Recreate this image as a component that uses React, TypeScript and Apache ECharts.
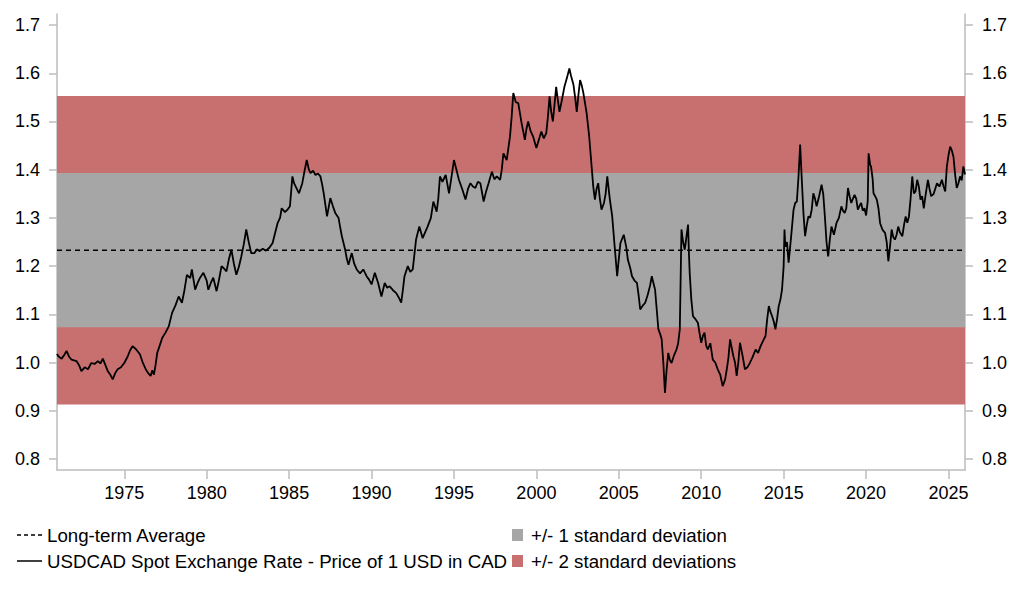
import React, { useEffect, useRef } from "react";
import * as echarts from "echarts";

// Decimal-year dates and USDCAD spot rates
const years = [
  1970.92, 1971.0, 1971.2, 1971.35, 1971.5, 1971.65, 1971.8, 1972.1, 1972.25, 1972.4, 1972.6, 1972.8,
  1973.0, 1973.2, 1973.4, 1973.55, 1973.7, 1973.85, 1974.0, 1974.15, 1974.3, 1974.45, 1974.6, 1974.8,
  1975.0, 1975.2, 1975.35, 1975.5, 1975.7, 1975.95, 1976.1, 1976.3, 1976.45, 1976.6, 1976.7, 1976.8,
  1976.9, 1977.0, 1977.15, 1977.3, 1977.5, 1977.7, 1977.9, 1978.1, 1978.3, 1978.5, 1978.65, 1978.8,
  1979.0, 1979.1, 1979.3, 1979.45, 1979.6, 1979.8, 1980.0, 1980.1, 1980.25, 1980.4, 1980.6, 1980.75,
  1980.9, 1981.05, 1981.2, 1981.35, 1981.5, 1981.65, 1981.8, 1981.95, 1982.1, 1982.25, 1982.4, 1982.55,
  1982.7, 1982.9, 1983.05, 1983.2, 1983.4, 1983.6, 1983.8, 1984.0, 1984.1, 1984.3, 1984.45, 1984.55,
  1984.75, 1984.9, 1985.05, 1985.2, 1985.3, 1985.4, 1985.6, 1985.8, 1985.95, 1986.07, 1986.2, 1986.3,
  1986.45, 1986.6, 1986.75, 1986.9, 1987.0, 1987.1, 1987.3, 1987.4, 1987.5, 1987.65, 1987.8, 1988.0,
  1988.1, 1988.2, 1988.4, 1988.5, 1988.6, 1988.8, 1988.95, 1989.1, 1989.3, 1989.5, 1989.7, 1989.85,
  1990.0, 1990.2, 1990.4, 1990.6, 1990.8, 1990.95, 1991.1, 1991.3, 1991.5, 1991.65, 1991.8, 1991.9,
  1992.0, 1992.2, 1992.35, 1992.5, 1992.7, 1992.9, 1993.1, 1993.25, 1993.4, 1993.6, 1993.75, 1993.95,
  1994.05, 1994.15, 1994.3, 1994.5, 1994.7, 1994.85, 1995.0, 1995.15, 1995.3, 1995.5, 1995.7, 1995.85,
  1996.0, 1996.15, 1996.3, 1996.45, 1996.6, 1996.8, 1996.95, 1997.1, 1997.3, 1997.45, 1997.6, 1997.8,
  1997.9, 1998.0, 1998.2, 1998.4, 1998.5, 1998.6, 1998.75, 1998.9, 1999.1, 1999.3, 1999.4, 1999.5,
  1999.65, 1999.8, 2000.0, 2000.15, 2000.3, 2000.45, 2000.6, 2000.7, 2000.8, 2000.9, 2001.0, 2001.1,
  2001.2, 2001.3, 2001.4, 2001.55, 2001.7, 2001.85, 2002.0, 2002.1, 2002.25, 2002.35, 2002.45, 2002.55,
  2002.65, 2002.75, 2002.85, 2003.05, 2003.2, 2003.35, 2003.45, 2003.55, 2003.65, 2003.75, 2003.85, 2003.95,
  2004.1, 2004.2, 2004.3, 2004.45, 2004.6, 2004.75, 2004.9, 2005.0, 2005.1, 2005.3, 2005.45, 2005.55,
  2005.7, 2005.8, 2005.95, 2006.1, 2006.2, 2006.3, 2006.45, 2006.6, 2006.75, 2006.9, 2007.0, 2007.1,
  2007.2, 2007.3, 2007.4, 2007.5, 2007.6, 2007.7, 2007.8, 2007.9, 2008.0, 2008.1, 2008.2, 2008.35,
  2008.5, 2008.6, 2008.7, 2008.8, 2008.9, 2009.0, 2009.1, 2009.2, 2009.25, 2009.3, 2009.4, 2009.5,
  2009.65, 2009.8, 2009.9, 2010.0, 2010.1, 2010.2, 2010.3, 2010.4, 2010.55, 2010.7, 2010.85, 2011.0,
  2011.15, 2011.3, 2011.45, 2011.55, 2011.65, 2011.75, 2011.85, 2011.95, 2012.05, 2012.15, 2012.25, 2012.35,
  2012.5, 2012.65, 2012.8, 2012.95, 2013.1, 2013.3, 2013.45, 2013.6, 2013.75, 2013.9, 2014.0, 2014.1,
  2014.2, 2014.3, 2014.4, 2014.5, 2014.6, 2014.7, 2014.8, 2014.9, 2015.0, 2015.05, 2015.1, 2015.2,
  2015.3, 2015.45, 2015.6, 2015.7, 2015.8, 2015.9, 2016.0, 2016.1, 2016.2, 2016.3, 2016.4, 2016.5,
  2016.6, 2016.7, 2016.8, 2016.9, 2017.0, 2017.15, 2017.3, 2017.4, 2017.5, 2017.6, 2017.7, 2017.8,
  2017.9, 2018.05, 2018.2, 2018.35, 2018.5, 2018.6, 2018.7, 2018.8, 2018.9, 2019.0, 2019.1, 2019.3,
  2019.4, 2019.5, 2019.6, 2019.7, 2019.8, 2019.9, 2020.0, 2020.1, 2020.15, 2020.25, 2020.3, 2020.4,
  2020.45, 2020.55, 2020.65, 2020.75, 2020.85, 2021.0, 2021.15, 2021.25, 2021.35, 2021.45, 2021.55, 2021.65,
  2021.75, 2021.85, 2021.95, 2022.05, 2022.2, 2022.3, 2022.4, 2022.5, 2022.6, 2022.7, 2022.8, 2022.9,
  2023.0, 2023.1, 2023.2, 2023.3, 2023.4, 2023.5, 2023.6, 2023.75, 2023.85, 2023.95, 2024.1, 2024.3,
  2024.45, 2024.6, 2024.7, 2024.8, 2024.9, 2025.0, 2025.1, 2025.2, 2025.3, 2025.4, 2025.5, 2025.6,
  2025.7, 2025.8, 2025.9, 2026.0,
];

const rates = [
  1.018, 1.013, 1.008, 1.015, 1.024, 1.012, 1.006, 1.003, 0.995, 0.982, 0.99, 0.986,
  0.999, 0.997, 1.003, 0.998, 1.008, 0.995, 0.982, 0.975, 0.965, 0.978, 0.986, 0.99,
  0.999, 1.012, 1.025, 1.034, 1.028, 1.017, 1.002, 0.986, 0.978, 0.972, 0.984, 0.975,
  0.995, 1.02, 1.035, 1.051, 1.062, 1.075, 1.103, 1.118, 1.137, 1.124, 1.15, 1.182,
  1.175, 1.193, 1.151, 1.165, 1.176, 1.186, 1.17, 1.151, 1.165, 1.176, 1.148, 1.172,
  1.2, 1.195, 1.189, 1.215, 1.234, 1.205, 1.182, 1.198, 1.22, 1.245, 1.276, 1.25,
  1.227, 1.227, 1.235, 1.231, 1.236, 1.232, 1.238, 1.248, 1.262, 1.289, 1.3, 1.32,
  1.312, 1.317, 1.324, 1.386, 1.372, 1.365, 1.351, 1.372, 1.4, 1.42, 1.4, 1.393,
  1.398, 1.389, 1.392, 1.386, 1.37, 1.351, 1.303, 1.322, 1.341, 1.325, 1.31, 1.3,
  1.28, 1.262, 1.234, 1.215, 1.203, 1.227, 1.205, 1.193, 1.185, 1.193, 1.179, 1.172,
  1.162, 1.186, 1.165, 1.137, 1.165, 1.155, 1.158, 1.15, 1.144, 1.135, 1.124, 1.15,
  1.179, 1.2, 1.188, 1.193, 1.255, 1.282, 1.258, 1.27, 1.282, 1.3, 1.334, 1.313,
  1.34, 1.386, 1.375, 1.389, 1.351, 1.385, 1.42, 1.4, 1.379, 1.36, 1.338, 1.36,
  1.372, 1.365, 1.362, 1.375, 1.372, 1.334, 1.355, 1.372, 1.396, 1.38, 1.386, 1.379,
  1.4, 1.434, 1.42, 1.469, 1.51, 1.559, 1.54, 1.538, 1.497, 1.462, 1.485, 1.5,
  1.48, 1.469, 1.445, 1.462, 1.479, 1.465, 1.476, 1.51, 1.552, 1.52, 1.5, 1.535,
  1.572, 1.545, 1.52, 1.545, 1.572, 1.59, 1.61, 1.595, 1.576, 1.55, 1.52, 1.555,
  1.586, 1.575, 1.559, 1.517, 1.47, 1.407, 1.365, 1.338, 1.36, 1.372, 1.34, 1.317,
  1.331, 1.35, 1.386, 1.34, 1.303, 1.24, 1.179, 1.215, 1.248, 1.265, 1.24, 1.213,
  1.195, 1.179, 1.17, 1.165, 1.14, 1.11, 1.118, 1.124, 1.14, 1.16, 1.179, 1.165,
  1.151, 1.11, 1.069, 1.06, 1.048, 1.0, 0.937, 0.985, 1.02, 1.005, 0.999, 1.015,
  1.027, 1.04, 1.069, 1.276, 1.25, 1.234, 1.26, 1.286, 1.23, 1.186, 1.13, 1.096,
  1.09, 1.082, 1.06, 1.041, 1.055, 1.062, 1.035, 1.027, 1.04, 1.006, 1.0, 0.986,
  0.975, 0.951, 0.965, 0.986, 1.01, 1.048, 1.03, 1.013, 1.0, 0.972, 1.0, 1.041,
  1.015, 0.986, 0.99, 0.999, 1.01, 1.027, 1.02, 1.034, 1.045, 1.055, 1.09, 1.117,
  1.105, 1.096, 1.085, 1.069, 1.09, 1.117, 1.13, 1.151, 1.2, 1.276, 1.24, 1.25,
  1.207, 1.26, 1.317, 1.331, 1.334, 1.386, 1.452, 1.379, 1.31, 1.262, 1.285, 1.303,
  1.3, 1.317, 1.351, 1.34, 1.324, 1.345, 1.369, 1.35, 1.303, 1.25, 1.22, 1.255,
  1.282, 1.265, 1.289, 1.3, 1.324, 1.315, 1.31, 1.32, 1.362, 1.345, 1.331, 1.348,
  1.34, 1.317, 1.325, 1.331, 1.315, 1.32, 1.305, 1.335, 1.434, 1.41, 1.407, 1.38,
  1.351, 1.345, 1.338, 1.32, 1.289, 1.275, 1.269, 1.25, 1.21, 1.24, 1.276, 1.26,
  1.255, 1.265, 1.282, 1.27, 1.262, 1.285, 1.303, 1.29, 1.303, 1.34, 1.386, 1.351,
  1.355, 1.379, 1.365, 1.338, 1.345, 1.32, 1.345, 1.379, 1.36, 1.345, 1.35, 1.372,
  1.365, 1.379, 1.365, 1.355, 1.407, 1.43, 1.448, 1.44, 1.427, 1.39, 1.362, 1.372,
  1.386, 1.378, 1.407, 1.39,
];

const longTermAverage = 1.233;
const oneStdDevBand = [1.073, 1.393];
const twoStdDevBand = [0.913, 1.553];

const yTickValues = [0.8, 0.9, 1.0, 1.1, 1.2, 1.3, 1.4, 1.5, 1.6, 1.7];
const xTickValues = [1975, 1980, 1985, 1990, 1995, 2000, 2005, 2010, 2015, 2020, 2025];

const xRange = [1970.92, 2026.0];
const yRange = [0.777, 1.723];

const seriesNames = {
  average: "Long-term Average",
  spot: "USDCAD Spot Exchange Rate - Price of 1 USD in CAD",
  oneSd: "+/- 1 standard deviation",
  twoSd: "+/- 2 standard deviations",
};

const RED = "#C87070";
const GRAY = "#A6A6A6";
const AXIS = "#BDBDBD";
const FONT = "'Liberation Sans', Arial, sans-serif";
const TEXT = "#000";
const LEGEND_SIZE = 18.7;

export default function App() {
  const ref = useRef<HTMLDivElement>(null);

  useEffect(() => {
    document.body.style.margin = "0";
    const chart = echarts.init(ref.current!, null, { renderer: "svg" });

    const yAxisCommon = {
      type: "value",
      min: yRange[0],
      max: yRange[1],
      splitLine: { show: false },
      axisLine: { show: true, lineStyle: { color: AXIS, width: 1.5 } },
      axisTick: {
        show: true,
        length: 8,
        customValues: yTickValues,
        lineStyle: { color: AXIS, width: 1.5 },
      },
      axisLabel: {
        customValues: yTickValues,
        formatter: (v: number) => v.toFixed(1),
        fontSize: 18,
        fontFamily: FONT,
        color: TEXT,
        margin: 17,
      },
    };

    const lineData = years.map((y, i) => [y, rates[i]]);

    const legendText = (text: string, x: number, y: number) => ({
      type: "text",
      x,
      y,
      style: {
        text,
        fontSize: LEGEND_SIZE,
        fontFamily: FONT,
        fill: TEXT,
        verticalAlign: "middle",
      },
    });

    chart.setOption({
      animation: false,
      backgroundColor: "#fff",
      grid: { left: 57, right: 57, top: 14, bottom: 127, containLabel: false },
      xAxis: {
        type: "value",
        min: xRange[0],
        max: xRange[1],
        splitLine: { show: false },
        axisLine: { show: true, onZero: false, lineStyle: { color: AXIS, width: 1.5 } },
        axisTick: {
          show: true,
          length: 9,
          customValues: xTickValues,
          lineStyle: { color: AXIS, width: 1.5 },
        },
        axisLabel: {
          customValues: xTickValues,
          formatter: (v: number) => String(Math.round(v)),
          fontSize: 18,
          fontFamily: FONT,
          color: TEXT,
          margin: 14,
        },
      },
      yAxis: [
        { ...yAxisCommon, position: "left" },
        { ...yAxisCommon, position: "right" },
      ],
      series: [
        {
          name: seriesNames.twoSd,
          type: "line",
          data: [],
          markArea: {
            silent: true,
            itemStyle: { color: RED },
            data: [[{ yAxis: twoStdDevBand[0] }, { yAxis: twoStdDevBand[1] }]],
          },
        },
        {
          name: seriesNames.oneSd,
          type: "line",
          data: [],
          markArea: {
            silent: true,
            itemStyle: { color: GRAY },
            data: [[{ yAxis: oneStdDevBand[0] }, { yAxis: oneStdDevBand[1] }]],
          },
        },
        {
          name: seriesNames.average,
          type: "line",
          symbol: "none",
          data: [
            [xRange[0], longTermAverage],
            [xRange[1], longTermAverage],
          ],
          lineStyle: { color: "#000", width: 1.5, type: [5, 4] },
          z: 3,
        },
        {
          name: seriesNames.spot,
          type: "line",
          symbol: "none",
          data: lineData,
          lineStyle: { color: "#000", width: 1.8 },
          z: 4,
        },
      ],
      graphic: [
        {
          type: "line",
          shape: { x1: 17, y1: 535, x2: 42, y2: 535 },
          style: { stroke: "#000", lineWidth: 1.5, lineDash: [4, 3] },
        },
        legendText(seriesNames.average, 47, 535),
        {
          type: "line",
          shape: { x1: 17, y1: 561, x2: 42, y2: 561 },
          style: { stroke: "#000", lineWidth: 1.5 },
        },
        legendText(seriesNames.spot, 47, 561),
        {
          type: "rect",
          shape: { x: 512, y: 529, width: 11, height: 12 },
          style: { fill: GRAY },
        },
        legendText(seriesNames.oneSd, 531, 535),
        {
          type: "rect",
          shape: { x: 512, y: 555, width: 11, height: 12 },
          style: { fill: RED },
        },
        legendText(seriesNames.twoSd, 531, 561),
      ],
    });

    return () => chart.dispose();
  }, []);

  return <div ref={ref} style={{ width: 1022, height: 597 }} />;
}
